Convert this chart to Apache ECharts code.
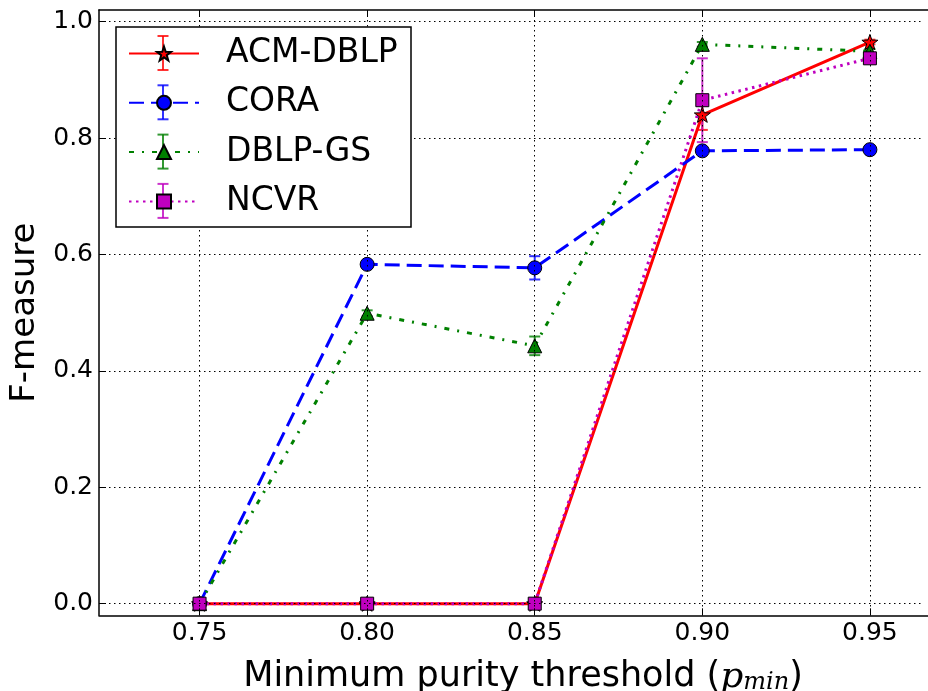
<!DOCTYPE html>
<html>
<head>
<meta charset="utf-8">
<script src="https://cdn.jsdelivr.net/npm/echarts@6/dist/echarts.min.js"></script>
<style>
  html, body { margin: 0; padding: 0; background: #fff; overflow: hidden; }
  #chart { width: 960px; height: 691px; }
</style>
</head>
<body>
<div id="chart"></div>
<script>
// Minimum purity threshold values on the x axis
const thresholds = [0.75, 0.80, 0.85, 0.90, 0.95];

// F-measure per dataset, with the half-width of each error bar
const acmDblp     = [0, 0, 0, 0.840, 0.965];
const acmDblpErr  = [0, 0, 0, 0.026, 0.004];
const cora        = [0, 0.583, 0.577, 0.778, 0.780];
const coraErr     = [0, 0.004, 0.020, 0.004, 0.003];
const dblpGs      = [0, 0.499, 0.443, 0.961, 0.949];
const dblpGsErr   = [0, 0.005, 0.016, 0.004, 0.004];
const ncvr        = [0, 0, 0, 0.865, 0.937];
const ncvrErr     = [0, 0, 0, 0.072, 0.004];

const seriesNames = ['ACM-DBLP', 'CORA', 'DBLP-GS', 'NCVR'];

// Tick labels
const xTicks = [0.75, 0.80, 0.85, 0.90, 0.95];
const yTicks = [0.0, 0.2, 0.4, 0.6, 0.8, 1.0];

const STAR = 'path://M0,-10L2.35,-3.24L9.51,-3.09L3.8,1.24L5.88,8.09L0,4L-5.88,8.09L-3.8,1.24L-9.51,-3.09L-2.35,-3.24Z';

const datasets = [
  { name: seriesNames[0], values: acmDblp, errors: acmDblpErr },
  { name: seriesNames[1], values: cora,    errors: coraErr },
  { name: seriesNames[2], values: dblpGs,  errors: dblpGsErr },
  { name: seriesNames[3], values: ncvr,    errors: ncvrErr }
];

const looks = {
  'ACM-DBLP': { color: '#ff0000', symbol: STAR,       size: 16, dash: 'solid' },
  'CORA':     { color: '#0000ff', symbol: 'circle',   size: 14, dash: [15, 7] },
  'DBLP-GS':  { color: '#008000', symbol: 'triangle', size: 14, dash: [5, 8, 2, 8] },
  'NCVR':     { color: '#bf00bf', symbol: 'rect',     size: 13, dash: [2.5, 4.5] }
};

const FONT = 'DejaVu Sans';

function errorBarSeries(ds) {
  const color = looks[ds.name].color;
  const data = thresholds
    .map((x, i) => [x, ds.values[i], ds.errors[i]])
    .filter(d => d[2] > 0);
  return {
    name: ds.name + ' error',
    type: 'custom',
    z: 1,
    silent: true,
    data: data,
    encode: { x: 0, y: 1 },
    renderItem: function (params, api) {
      const x = api.value(0), y = api.value(1), e = api.value(2);
      const hi = api.coord([x, y + e]);
      const lo = api.coord([x, y - e]);
      const half = 5.5;
      const st = { stroke: color, lineWidth: 2, opacity: 0.8 };
      return {
        type: 'group',
        children: [
          { type: 'line', shape: { x1: hi[0], y1: hi[1], x2: lo[0], y2: lo[1] }, style: st },
          { type: 'line', shape: { x1: hi[0] - half, y1: hi[1], x2: hi[0] + half, y2: hi[1] }, style: st },
          { type: 'line', shape: { x1: lo[0] - half, y1: lo[1], x2: lo[0] + half, y2: lo[1] }, style: st }
        ]
      };
    }
  };
}

function lineSeries(ds) {
  const lk = looks[ds.name];
  return {
    name: ds.name,
    type: 'line',
    z: 2,
    data: thresholds.map((x, i) => [x, ds.values[i]]),
    symbol: lk.symbol,
    symbolSize: lk.size,
    symbolKeepAspect: true,
    showAllSymbol: true,
    lineStyle: { color: lk.color, width: 3, type: lk.dash },
    itemStyle: { color: lk.color, borderColor: '#000', borderWidth: 1 },
    emphasis: { disabled: true }
  };
}

// Legend frame and the small error-bar glyphs behind each legend marker
const legendBox = { x: 116, y: 27, w: 295, h: 200 };
const legendRows = [53, 102.3, 151.6, 200.9];
const legendGlyphX = 163;
const legendGraphics = [
  {
    type: 'rect', z: 3, silent: true,
    shape: { x: legendBox.x, y: legendBox.y, width: legendBox.w, height: legendBox.h },
    style: { fill: '#fff', stroke: '#000', lineWidth: 1.5 }
  },
  // the plot runs past the right edge of the page, so no right-hand frame shows
  {
    type: 'rect', z: 100, silent: true,
    shape: { x: 922, y: 11.5, width: 40, height: 602.5 },
    style: { fill: '#fff' }
  }
];
seriesNames.forEach((n, i) => {
  const c = looks[n].color, cy = legendRows[i], st = { stroke: c, lineWidth: 2, opacity: 0.8 };
  legendGraphics.push(
    { type: 'line', z: 3.5, silent: true, shape: { x1: legendGlyphX, y1: cy - 17, x2: legendGlyphX, y2: cy + 17 }, style: st },
    { type: 'line', z: 3.5, silent: true, shape: { x1: legendGlyphX - 5.5, y1: cy - 17, x2: legendGlyphX + 5.5, y2: cy - 17 }, style: st },
    { type: 'line', z: 3.5, silent: true, shape: { x1: legendGlyphX - 5.5, y1: cy + 17, x2: legendGlyphX + 5.5, y2: cy + 17 }, style: st }
  );
});

function gridDots() {
  return { show: true, lineStyle: { color: '#000', width: 1, type: [1.5, 3.5] } };
}
function frame() {
  return { show: true, onZero: false, lineStyle: { color: '#000', width: 1.5 } };
}
function ticks(values) {
  return { inside: true, length: 7, customValues: values, lineStyle: { color: '#000', width: 1 } };
}

const option = {
  animation: false,
  backgroundColor: '#fff',
  grid: {
    left: 99, top: 10, width: 848, height: 605.3,
    containLabel: false,
    outerBoundsMode: 'none',
    show: false
  },
  legend: {
    data: seriesNames,
    orient: 'vertical',
    left: 116, top: 27,
    padding: [10, 19, 10, 12],
    itemWidth: 70, itemHeight: 17.5, itemGap: 16.3,
    selectedMode: false,
    z: 4,
    textStyle: { fontSize: 33, fontFamily: FONT, color: '#000', lineHeight: 33, padding: [0, 0, 0, 22] }
  },
  graphic: legendGraphics,
  xAxis: [
    {
      type: 'value', min: 0.72, max: 0.973, z: 2.5,
      name: '{t|Minimum purity threshold (}{p|p}{s|min}{t|)}',
      nameLocation: 'middle', nameGap: 29,
      nameTextStyle: {
        color: '#000',
        rich: {
          t: { fontFamily: FONT, fontSize: 35, color: '#000', verticalAlign: 'middle', lineHeight: 34 },
          p: { fontFamily: 'DejaVu Serif', fontStyle: 'italic', fontSize: 36, color: '#000', verticalAlign: 'middle', lineHeight: 36 },
          s: { fontFamily: 'DejaVu Serif', fontStyle: 'italic', fontSize: 24, color: '#000', verticalAlign: 'bottom', lineHeight: 24, padding: [20, 0, 0, 0] }
        }
      },
      axisLine: frame(),
      axisTick: ticks(xTicks),
      axisLabel: { customValues: xTicks, margin: 6, fontSize: 25, fontFamily: FONT, color: '#000', formatter: v => v.toFixed(2) },
      splitLine: gridDots()
    },
    {
      type: 'value', min: 0.72, max: 0.973, position: 'top', z: 2.5,
      axisLine: frame(),
      axisTick: ticks(xTicks),
      axisLabel: { show: false },
      splitLine: { show: false }
    }
  ],
  yAxis: {
    type: 'value', min: -0.02, max: 1.02, z: 2.5,
    name: 'F-measure',
    nameLocation: 'middle', nameGap: 55,
    nameTextStyle: { fontFamily: FONT, fontSize: 34, color: '#000' },
    axisLine: frame(),
    axisTick: ticks(yTicks),
    axisLabel: { customValues: yTicks, margin: 6, fontSize: 25, fontFamily: FONT, color: '#000', formatter: v => v.toFixed(1) },
    splitLine: gridDots()
  },
  series: datasets.map(errorBarSeries).concat(datasets.map(lineSeries))
};

const chart = echarts.init(document.getElementById('chart'), null, { renderer: 'canvas' });
chart.setOption(option);
</script>
</body>
</html>
